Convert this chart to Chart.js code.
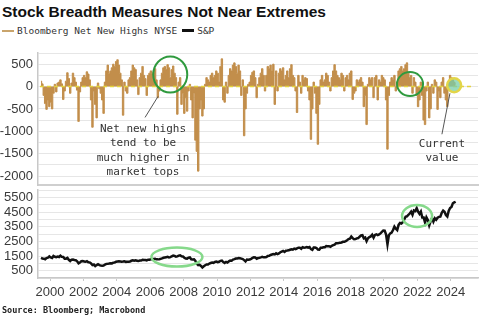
<!DOCTYPE html>
<html>
<head>
<meta charset="utf-8">
<script src="https://cdn.jsdelivr.net/npm/chart.js@4/dist/chart.umd.min.js"></script>
<style>
  body { margin: 0; width: 485px; height: 325px; background: #fff; overflow: hidden; position: relative; }
  .title { position: absolute; left: 2px; top: 3px; font: bold 15.5px "Liberation Sans", Arial, sans-serif; color: #111; white-space: nowrap; }
  .legend { position: absolute; left: 2px; top: 25px; font: 9.5px "DejaVu Sans Mono", monospace; color: #333; white-space: nowrap; }
  .legend span.sw { display: inline-block; width: 12px; vertical-align: middle; margin-right: 3px; position: relative; top: -1px; }
  .source { position: absolute; left: 2px; top: 305px; font: bold 8.5px "DejaVu Sans Mono", monospace; color: #222; white-space: nowrap; }
  .panel { position: absolute; left: 0; }
</style>
</head>
<body>
<div class="title">Stock Breadth Measures Not Near Extremes</div>
<div class="legend"><span class="sw" style="border-top:2px solid #c9a46c"></span>Bloomberg Net New Highs NYSE<span class="sw" style="border-top:3px solid #111;margin-left:5px"></span>S&amp;P</div>
<div class="panel" style="top:48px"><canvas id="highsChart" width="485" height="142"></canvas></div>
<div class="panel" style="top:186px"><canvas id="spxChart" width="485" height="118"></canvas></div>
<div class="source">Source: Bloomberg; Macrobond</div>

<script>
// monthly series, first value is June 1999
const startYear = 1999;
const startMonth = 6;

// Bloomberg net new highs, NYSE (monthly)
const netHighs = [
  120, 60, -200, -380, -510, -300, -450,
  -350, -500, -150, 50, -120, 80, 100, 150, 60, -290, -100, 120,
  310, 180, -150, 80, 300, 200, 100, -80, -780, -120, 100, 200,
  250, 200, 330, 280, 150, -300, -910, -100, -400, -700, 80, -50,
  -150, -300, -600, 100, 350, 480, 300, 350, 420, 500, 450, 560,
  600, 480, 300, 150, -640, 100, -100, -150, 150, 200, 350, 480,
  420, 380, 150, -180, 200, 300, 450, 250, 180, -200, 250, 300,
  350, 300, 320, 400, 150, -250, -100, 150, 300, 420, 450, 380,
  490, 420, 200, 380, 460, 300, 200, -620, 100, 200, -400, -150,
  -600, -250, -550, -100, 50, -300, -700, -150, -1200, -1450, -1890, -500,
  -300, -660, -500, 50, 200, 150, 100, 250, 300, 200, 250, 350,
  300, 100, 450, 620, -300, -350, 100, -150, 250, 400, 350, 480,
  530, 450, 300, 480, 350, -200, 150, -1100, -500, -150, 50, 100,
  250, 320, 350, 200, -250, 50, 200, 300, 400, 250, -100, 250,
  450, 400, 480, 350, 500, -400, 350, -100, 300, 400, 350, 420,
  150, 250, 350, 200, 400, 490, 250, 200, -100, -580, 250, 100,
  -150, 250, 150, 200, 180, -100, -300, -1180, -500, 100, -150, -600,
  -1290, -400, 150, 250, 100, 150, 300, 250, 100, -100, 200, 350,
  490, 350, 250, 200, 150, 300, 250, -100, 200, 250, 150, 300,
  350, -290, -150, -100, 150, 100, 150, 200, 100, -450, -200, -850,
  50, 200, 150, 200, -250, 200, 250, -300, 150, 100, 250, 200,
  150, -300, -1400, -200, 100, 200, 150, 250, -100, 100, 350, 400,
  450, 350, 400, 490, 530, 300, 200, 250, -150, 200, 100, -200,
  -450, -300, 100, -200, -750, -850, -100, 100, -700, -500, 50, -150,
  150, 100, -510, -100, -250, 100, 200, -150, -300, -450, 100, 250,
  200, 150, 100, 60
];

// S&P 500 (monthly)
const spx = [
  1370, 1330, 1320, 1280, 1360, 1390, 1470,
  1400, 1360, 1500, 1450, 1420, 1455, 1430, 1520, 1440, 1430, 1320, 1320,
  1370, 1240, 1160, 1250, 1255, 1225, 1210, 1135, 1000, 1060, 1140, 1150,
  1130, 1105, 1150, 1075, 1065, 990, 880, 915, 815, 880, 935, 880,
  855, 840, 850, 915, 965, 975, 990, 1010, 995, 1050, 1060, 1110,
  1130, 1145, 1125, 1105, 1120, 1140, 1100, 1105, 1115, 1130, 1175, 1210,
  1180, 1205, 1180, 1155, 1190, 1190, 1235, 1220, 1230, 1205, 1250, 1250,
  1280, 1280, 1295, 1310, 1270, 1270, 1275, 1305, 1335, 1380, 1400, 1420,
  1440, 1405, 1420, 1480, 1530, 1505, 1455, 1475, 1525, 1550, 1480, 1470,
  1380, 1330, 1320, 1385, 1400, 1280, 1265, 1280, 1165, 970, 880, 900,
  825, 720, 800, 870, 920, 920, 985, 1020, 1055, 1035, 1095, 1115,
  1075, 1105, 1170, 1185, 1090, 1030, 1100, 1050, 1140, 1185, 1180, 1255,
  1285, 1325, 1325, 1365, 1345, 1320, 1290, 1220, 1130, 1255, 1245, 1260,
  1310, 1365, 1410, 1400, 1310, 1360, 1380, 1405, 1440, 1410, 1415, 1425,
  1500, 1515, 1570, 1600, 1630, 1605, 1685, 1635, 1680, 1755, 1805, 1850,
  1780, 1860, 1870, 1885, 1925, 1960, 1930, 2005, 1970, 2020, 2065, 2060,
  1995, 2105, 2070, 2085, 2105, 2065, 2105, 1970, 1920, 2080, 2080, 2045,
  1940, 1930, 2060, 2065, 2095, 2100, 2175, 2170, 2170, 2125, 2200, 2240,
  2280, 2365, 2365, 2385, 2410, 2425, 2470, 2470, 2520, 2575, 2650, 2675,
  2825, 2715, 2640, 2650, 2705, 2720, 2815, 2900, 2915, 2710, 2760, 2510,
  2705, 2785, 2835, 2945, 2750, 2940, 2980, 2925, 2975, 3040, 3140, 3230,
  3225, 2955, 2300, 2910, 3045, 3100, 3270, 3500, 3365, 3270, 3620, 3755,
  3715, 3810, 3975, 4180, 4205, 4300, 4395, 4525, 4310, 4605, 4565, 4765,
  4515, 4375, 4530, 4130, 4130, 3785, 4130, 3955, 3585, 3870, 4080, 3840,
  4075, 3970, 4110, 4170, 4180, 4450, 4590, 4510, 4290, 4195, 4570, 4770,
  4845, 5095, 5150, 5200
];

const yearTicks = [2000, 2002, 2004, 2006, 2008, 2010, 2012, 2014, 2016, 2018, 2020, 2022, 2024];
const highsTicks = [750, 500, 250, 0, -250, -500, -750, -1000, -1250, -1500, -1750, -2000];
const spxTicks = [0, 500, 1000, 1500, 2000, 2500, 3000, 3500, 4000, 4500, 5000, 5500, 6000];

const X_MIN = 1999.28, X_MAX = 2025.63;
const TAN = '#c28e4b';
const LABEL_FONT = { family: '"Liberation Sans", Arial, sans-serif', size: 13 };
const NOTE_FONT = '11px "DejaVu Sans Mono", monospace';

// decimal year at the middle of each month
const monthX = netHighs.map((_, i) => {
  const m = startMonth - 1 + i;
  return startYear + Math.floor(m / 12) + ((m % 12) + 0.5) / 12;
});

// circles, pointer lines and notes, placed in data units
function marksPlugin(items) {
  return {
    id: 'marks',
    afterDatasetsDraw(chart) {
      const { ctx, scales: { x, y } } = chart;
      ctx.save();
      items.forEach(m => {
        if (m.type === 'ellipse') {
          ctx.beginPath();
          ctx.ellipse(x.getPixelForValue(m.x), y.getPixelForValue(m.y), m.rx, m.ry, 0, 0, Math.PI * 2);
          if (m.fill) { ctx.fillStyle = m.fill; ctx.fill(); }
          ctx.strokeStyle = m.color;
          ctx.lineWidth = m.width || 2;
          ctx.stroke();
        } else if (m.type === 'line') {
          ctx.beginPath();
          ctx.moveTo(x.getPixelForValue(m.x1), y.getPixelForValue(m.y1));
          ctx.lineTo(x.getPixelForValue(m.x2), y.getPixelForValue(m.y2));
          ctx.strokeStyle = m.color;
          ctx.lineWidth = 1;
          ctx.stroke();
        } else if (m.type === 'text') {
          ctx.font = NOTE_FONT;
          ctx.fillStyle = '#333';
          ctx.textAlign = 'center';
          ctx.textBaseline = 'middle';
          const px = x.getPixelForValue(m.x);
          let py = y.getPixelForValue(m.y);
          m.lines.forEach(t => { ctx.fillText(t, px, py); py += m.lineHeight; });
        }
      });
      ctx.restore();
    }
  };
}

function fixedTicks(values) {
  return scale => { scale.ticks = values.map(v => ({ value: v })); };
}

// keep the plot area where the layout padding puts it
function fixedSize(w, h) {
  return s => {
    if (w !== null) s.width = w;
    if (h !== null) s.height = h;
    s.paddingTop = 0; s.paddingBottom = 0; s.paddingLeft = 0; s.paddingRight = 0;
  };
}

const highsMarks = [
  { type: 'ellipse', x: 2007.2, y: 270, rx: 17, ry: 18, color: '#2f9a3e', width: 2 },
  { type: 'ellipse', x: 2021.56, y: 55, rx: 13, ry: 12, color: '#2f9a3e', width: 2 },
  { type: 'ellipse', x: 2024.2, y: 30, rx: 7, ry: 7, color: '#e2d548', width: 2.5, fill: 'rgba(120,205,170,0.75)' },
  { type: 'line', x1: 2006.47, y1: -220, x2: 2005.69, y2: -690, color: '#555' },
  { type: 'line', x1: 2023.95, y1: -150, x2: 2023.47, y2: -1066, color: '#555' },
  { type: 'text', x: 2005.57, y: -955, lineHeight: 14.3, lines: ['Net new highs', 'tend to be', 'much higher in', 'market tops'] },
  { type: 'text', x: 2023.47, y: -1288, lineHeight: 13.5, lines: ['Current', 'value'] }
];

const spxMarks = [
  { type: 'ellipse', x: 2007.6, y: 1430, rx: 25.5, ry: 9.5, color: '#86d98b', width: 2.5 },
  { type: 'ellipse', x: 2021.98, y: 4230, rx: 15, ry: 11, color: '#86d98b', width: 2.5 }
];

const highsChart = new Chart(document.getElementById('highsChart'), {
  type: 'line',
  data: {
    datasets: [
      {
        label: 'zero',
        data: [{ x: 1999.4, y: 0 }, { x: 2025.3, y: 0 }],
        borderColor: '#e3d23e',
        borderWidth: 1.5,
        borderDash: [4, 3],
        pointRadius: 0
      },
      {
        label: 'Bloomberg Net New Highs NYSE',
        data: netHighs.map((v, i) => ({ x: monthX[i], y: v })),
        borderColor: TAN,
        backgroundColor: TAN,
        borderWidth: 1,
        stepped: 'middle',
        fill: 'origin',
        pointRadius: 0
      }
    ]
  },
  options: {
    responsive: false,
    animation: false,
    layout: { padding: { top: 5, bottom: 5, right: 7, left: 0 } },
    plugins: { legend: { display: false }, tooltip: { enabled: false } },
    scales: {
      x: {
        type: 'linear',
        min: X_MIN,
        max: X_MAX,
        grid: { display: false, drawTicks: false },
        ticks: { display: false },
        border: { display: true, color: '#cfcfcf', width: 2 },
        afterFit: fixedSize(null, 0)
      },
      y: {
        min: -2200,
        max: 750,
        afterBuildTicks: fixedTicks(highsTicks),
        afterFit: fixedSize(38, null),
        grid: { color: '#e6e6e6', drawTicks: false },
        border: { display: true, color: '#c8c8c8', width: 1.5 },
        ticks: {
          autoSkip: false,
          padding: 5,
          color: '#3a3a3a',
          font: LABEL_FONT,
          callback: v => (v % 500 === 0 ? String(v) : '')
        }
      }
    }
  },
  plugins: [marksPlugin(highsMarks)]
});

const spxChart = new Chart(document.getElementById('spxChart'), {
  type: 'line',
  data: {
    datasets: [{
      label: 'S&P',
      data: spx.map((v, i) => ({ x: monthX[i], y: v })),
      borderColor: '#111',
      borderWidth: 2.5,
      pointRadius: 0,
      tension: 0
    }]
  },
  options: {
    responsive: false,
    animation: false,
    layout: { padding: { top: 4, bottom: 0, right: 7, left: 0 } },
    plugins: { legend: { display: false }, tooltip: { enabled: false } },
    scales: {
      x: {
        type: 'linear',
        min: X_MIN,
        max: X_MAX,
        afterBuildTicks: fixedTicks(yearTicks),
        afterFit: fixedSize(null, 26),
        grid: { drawOnChartArea: false, drawTicks: true, tickLength: 3, color: '#c8c8c8' },
        border: { display: true, color: '#c8c8c8', width: 1.5 },
        ticks: {
          autoSkip: false,
          padding: 4,
          color: '#3a3a3a',
          font: LABEL_FONT,
          maxRotation: 0,
          callback: v => String(v)
        }
      },
      y: {
        min: 0,
        max: 6000,
        afterBuildTicks: fixedTicks(spxTicks),
        afterFit: fixedSize(38, null),
        grid: { color: '#e6e6e6', drawTicks: false },
        border: { display: true, color: '#c8c8c8', width: 1.5 },
        ticks: {
          autoSkip: false,
          padding: 5,
          color: '#3a3a3a',
          font: LABEL_FONT,
          callback: v => (v % 1000 === 500 ? String(v) : '')
        }
      }
    }
  },
  plugins: [marksPlugin(spxMarks)]
});
</script>
</body>
</html>
